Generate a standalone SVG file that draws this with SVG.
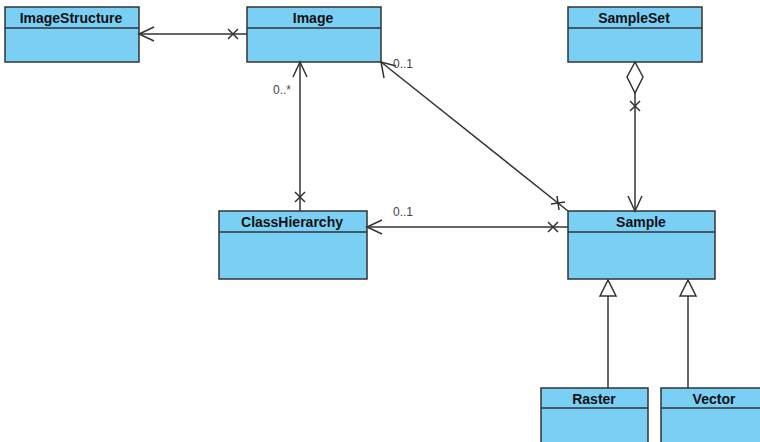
<svg xmlns="http://www.w3.org/2000/svg" width="760" height="442" viewBox="0 0 760 442">
<style>
.box{fill:#7acff5;stroke:#333;stroke-width:1.5}
.t{font-family:"Liberation Sans",Arial,sans-serif;font-size:14px;font-weight:bold;fill:#111;text-anchor:middle}
.l{font-family:"Liberation Sans",Arial,sans-serif;font-size:12px;fill:#444}
.c{fill:none;stroke:#333;stroke-width:1.5}
.d{fill:#fff;stroke:#333;stroke-width:1.5}
</style>
<rect width="760" height="442" fill="#fff"/>
<g id="ImageStructure"><rect class="box" x="5" y="7" width="134" height="55"/><line class="c" x1="5" y1="28" x2="139" y2="28"/><text class="t" x="71" y="23">ImageStructure</text></g>
<g id="Image"><rect class="box" x="247" y="7" width="134" height="55"/><line class="c" x1="247" y1="28" x2="381" y2="28"/><text class="t" x="313" y="23">Image</text></g>
<g id="SampleSet"><rect class="box" x="568" y="7" width="134" height="55"/><line class="c" x1="568" y1="28" x2="702" y2="28"/><text class="t" x="634" y="23">SampleSet</text></g>
<g id="ClassHierarchy"><rect class="box" x="219" y="211" width="148" height="68"/><line class="c" x1="219" y1="232" x2="367" y2="232"/><text class="t" x="292" y="227">ClassHierarchy</text></g>
<g id="Sample"><rect class="box" x="568" y="211" width="147" height="68"/><line class="c" x1="568" y1="232" x2="715" y2="232"/><text class="t" x="641" y="227">Sample</text></g>
<g id="Raster"><rect class="box" x="541" y="388" width="107" height="60"/><line class="c" x1="541" y1="408" x2="648" y2="408"/><text class="t" x="594" y="404">Raster</text></g>
<g id="Vector"><rect class="box" x="661" y="388" width="107" height="60"/><line class="c" x1="661" y1="408" x2="768" y2="408"/><text class="t" x="714" y="404">Vector</text></g>
<g id="connectors">
<line class="c" x1="247" y1="34" x2="139" y2="34"/>
<polyline class="c" points="154,27 139,34 154,41"/>
<path class="c" d="M228,29 L238,39 M228,39 L238,29"/>
<line class="c" x1="300" y1="211" x2="300" y2="62"/>
<polyline class="c" points="293,77 300,62 307,77"/>
<path class="c" d="M295,192 L305,202 M295,202 L305,192"/>
<text class="l" x="273" y="94">0..*</text>
<line class="c" x1="568" y1="211" x2="381" y2="62"/>
<polyline class="c" points="384,78 381,62 396,66"/>
<path class="c" d="M551,204 L565,202 M557,196 L559,210"/>
<text class="l" x="393" y="68">0..1</text>
<line class="c" x1="568" y1="227" x2="367" y2="227"/>
<polyline class="c" points="382,220 367,227 382,234"/>
<path class="c" d="M548,222 L558,232 M548,232 L558,222"/>
<text class="l" x="393" y="216">0..1</text>
<line class="c" x1="635" y1="93" x2="635" y2="211"/>
<polygon class="d" points="635,62 643,77 635,93 627,77"/>
<path class="c" d="M630,101 L640,111 M630,111 L640,101"/>
<polyline class="c" points="628,196 635,211 642,196"/>
<line class="c" x1="608" y1="388" x2="608" y2="296"/>
<polygon class="d" points="608,280 600,296 616,296"/>
<line class="c" x1="688" y1="388" x2="688" y2="296"/>
<polygon class="d" points="688,280 680,296 696,296"/>
</g>
</svg>
